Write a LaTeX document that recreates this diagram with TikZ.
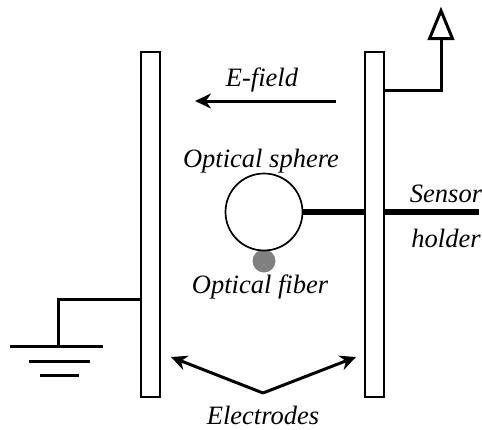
\documentclass[tikz,border=0pt]{standalone}
\usepackage{fontspec}
\setmainfont{Liberation Serif}
\usetikzlibrary{arrows.meta,positioning,shapes.geometric}
\definecolor{ink}{HTML}{000000}
\definecolor{fibergray}{HTML}{808080}
\tikzset{
  electrode/.style={rectangle, draw=ink, fill=white, line width=1.7pt, minimum width=19pt, minimum height=345pt, inner sep=0pt},
  sphere/.style={circle, draw=ink, fill=white, line width=1.7pt, minimum size=77pt, inner sep=0pt},
  fiber/.style={circle, fill=fibergray, minimum size=23pt, inner sep=0pt},
  antenna/.style={isosceles triangle, isosceles triangle stretches, shape border rotate=90, draw=ink, fill=white, line width=3pt, minimum height=28pt, minimum width=23pt, inner sep=0pt},
  lbl/.style={font=\fontsize{26.5pt}{30pt}\selectfont\itshape, inner sep=0pt, anchor=base},
  wire/.style={draw=ink, line width=3pt},
  rod/.style={draw=ink, line width=6pt},
  flow/.style={-{Stealth[length=16pt,width=15pt]}, draw=ink, line width=3pt}
}
\begin{document}
\begin{tikzpicture}[x=1pt,y=-1pt]
 \useasboundingbox (0,0) rectangle (482,429);
 % plates and sensor
 \node[fiber] (fib) at (264,261) {};
 \node[sphere] (sph) at (264,212) {};
 \node[electrode] (elL) at (150.5,224.5) {};
 \node[electrode] (elR) at (374.5,224.5) {};
 \node[antenna] (ant) at (441,31) {};
 \coordinate (rodend) at (479,212);
 \coordinate (bendT) at (441,90);
 \coordinate (bendG) at (58,299);
 \coordinate (gndA) at (10,346); \coordinate (gndB) at (103,346);
 \coordinate (gndC) at (29,361); \coordinate (gndD) at (90,361);
 \coordinate (gndE) at (40,375); \coordinate (gndF) at (79,375);
 \coordinate (apex) at (263,393);
 \coordinate (tipL) at (171,357); \coordinate (tipR) at (356,357);
 \coordinate (fieldA) at (336,101); \coordinate (fieldB) at (195,101);
 % labels
 \node[lbl] (efield) at (262,86) {E-field};
 \node[lbl] (sphlbl) at (261,167) {Optical sphere};
 \node[lbl] (fiblbl) at (260,293) {Optical fiber};
 \node[lbl] (senlbl) at (446,202) {Sensor};
 \node[lbl] (hldlbl) at (446,247) {holder};
 \node[lbl] (ellbl) at (263,424) {Electrodes};
 % connectors
 \draw[rod] (sph.east)--(sph.east-|elR.west);
 \draw[rod] (rodend-|elR.east)--(rodend);
 \draw[wire] (elR.east|-bendT)--(bendT)--(ant.south);
 \draw[wire] (elL.west|-bendG)--(bendG)--(bendG|-gndA);
 \draw[wire] (gndA)--(gndB); \draw[wire] (gndC)--(gndD); \draw[wire] (gndE)--(gndF);
 \draw[flow] (fieldA)--(fieldB);
 \draw[flow] (apex)--(tipL); \draw[flow] (apex)--(tipR);
\end{tikzpicture}
\end{document}
